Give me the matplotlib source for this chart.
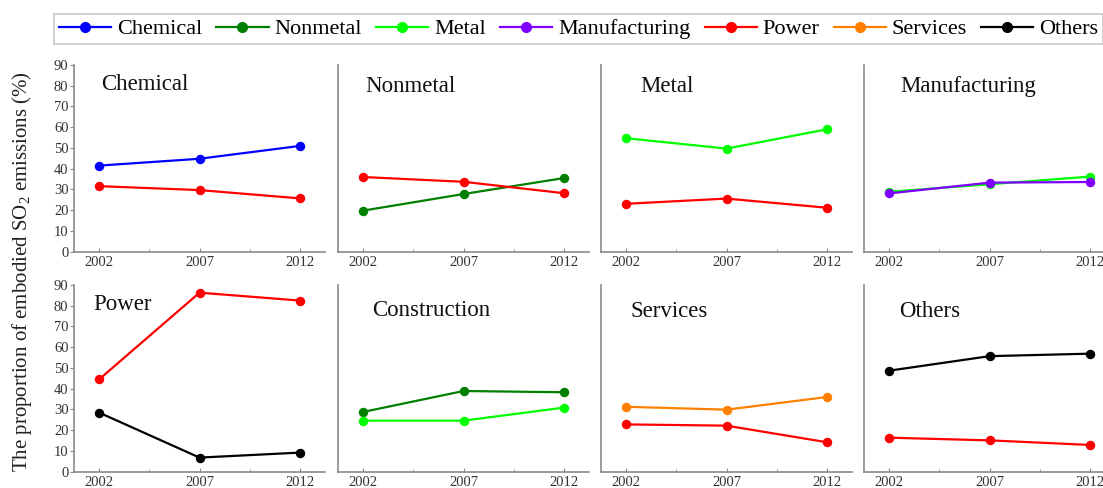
import numpy as np
import matplotlib
matplotlib.use("Agg")
import matplotlib.pyplot as plt
from matplotlib.lines import Line2D

plt.rcParams['font.family'] = ['Liberation Serif', 'DejaVu Serif']
plt.rcParams['mathtext.fontset'] = 'custom'
plt.rcParams['mathtext.rm'] = 'Liberation Serif'
plt.rcParams['mathtext.it'] = 'Liberation Serif:italic'

years = [2002, 2007, 2012]

# sector colours
colors = {
    'Chemical': '#0000ff',
    'Nonmetal': '#007f00',
    'Metal': '#00ff00',
    'Manufacturing': '#8000ff',
    'Power': '#ff0000',
    'Services': '#ff8000',
    'Others': '#000000',
}

# share of embodied SO2 (%) per panel, two series each
chemical = {'Chemical': [41.5, 44.8, 51.0], 'Power': [31.6, 29.7, 25.7]}
nonmetal = {'Nonmetal': [19.8, 27.8, 35.5], 'Power': [36.0, 33.7, 28.2]}
metal = {'Metal': [54.7, 49.7, 59.0], 'Power': [23.1, 25.6, 21.2]}
manufacturing = {'Metal': [28.9, 32.5, 36.2], 'Manufacturing': [28.1, 33.3, 33.6]}
power = {'Power': [44.5, 86.3, 82.5], 'Others': [28.5, 6.8, 9.2]}
construction = {'Nonmetal': [28.8, 38.9, 38.3], 'Metal': [24.6, 24.6, 30.9]}
services = {'Services': [31.3, 29.9, 36.0], 'Power': [22.8, 22.2, 14.2]}
others = {'Others': [48.7, 55.7, 56.9], 'Power': [16.4, 15.1, 12.9]}

panels = [
    ('Chemical', chemical, (0.11, 0.893)),
    ('Nonmetal', nonmetal, (0.11, 0.884)),
    ('Metal', metal, (0.157, 0.884)),
    ('Manufacturing', manufacturing, (0.143, 0.884)),
    ('Power', power, (0.077, 0.897)),
    ('Construction', construction, (0.137, 0.862)),
    ('Services', services, (0.118, 0.857)),
    ('Others', others, (0.139, 0.857)),
]

W, H = 1103, 488
fig = plt.figure(figsize=(W / 100, H / 100), dpi=100)

lefts = [74, 338, 601, 864]
ax_w = 251
rows = [(251.7, 65.0), (471.7, 285.0)]  # pixel y of 0 and 90

for i, (name, series, (tx, ty)) in enumerate(panels):
    r, c = divmod(i, 4)
    y0, y90 = rows[r]
    ax = fig.add_axes([lefts[c] / W, (H - y0) / H, ax_w / W, (y0 - y90) / H])
    for key, vals in series.items():
        ax.plot(years, vals, '-o', color=colors[key], lw=1.6, ms=5.8, zorder=3)
    ax.set_xlim(2000.75, 2013.25)
    ax.set_ylim(0, 90)
    ax.set_xticks(years)
    ax.set_xticks([2004.5, 2009.5], minor=True)
    ax.set_yticks(np.arange(0, 91, 10))
    for side in ['top', 'right']:
        ax.spines[side].set_visible(False)
    for side in ['left', 'bottom']:
        ax.spines[side].set_color('#8a8a8a')
        ax.spines[side].set_linewidth(1.2)
    ax.tick_params(axis='x', which='major', direction='in', length=3, color='#8a8a8a',
                   labelsize=10.5, labelcolor='#333333', pad=3)
    ax.tick_params(axis='x', which='minor', direction='in', length=2, color='#8a8a8a')
    ax.tick_params(axis='y', direction='out', length=3, color='#8a8a8a',
                   labelsize=10.5, labelcolor='#333333', pad=1)
    if c != 0:
        ax.tick_params(axis='y', left=False, labelleft=False)
    ax.text(tx, ty, name, transform=ax.transAxes, fontsize=16.5, va='center', ha='left',
            color='#111111')

fig.text(0.02, 0.443, 'The proportion of embodied SO$_2$ emissions (%)', rotation=90,
         fontsize=15, va='center', ha='center', color='#222222')

handles = [Line2D([], [], color=col, lw=1.6, marker='o', ms=7) for col in colors.values()]
leg = fig.legend(handles, list(colors.keys()), loc='upper left', ncol=7,
                 bbox_to_anchor=(54 / W, 1 - 14 / H), fontsize=16, frameon=True,
                 fancybox=False, edgecolor='#bbbbbb', handlelength=2.35,
                 handletextpad=0.27, columnspacing=0.63, borderpad=0.22,
                 borderaxespad=0)
leg.get_frame().set_linewidth(1.2)

fig.savefig('out.png', dpi=100, facecolor='white')
